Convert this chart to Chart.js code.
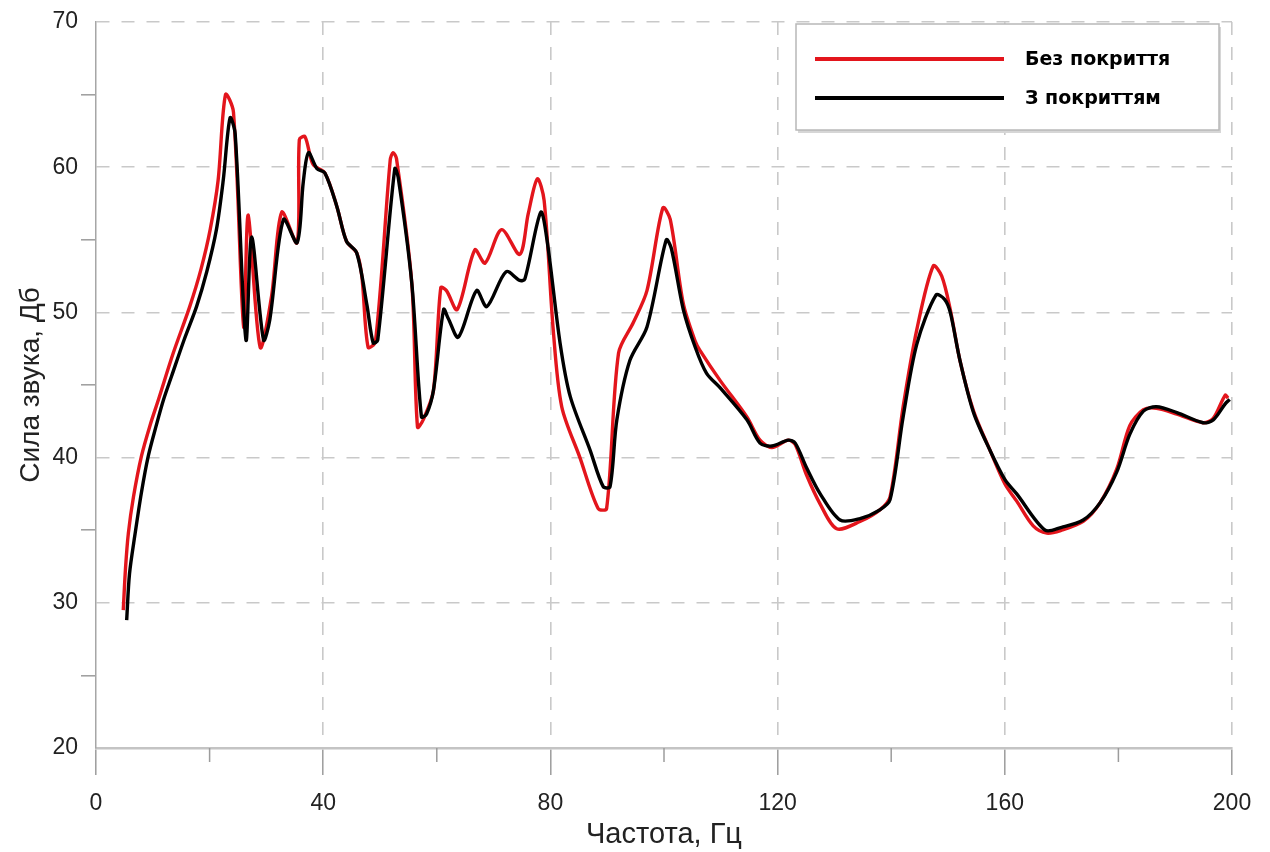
<!DOCTYPE html>
<html>
<head>
<meta charset="utf-8">
<script src="https://cdn.jsdelivr.net/npm/chart.js@4.4.1/dist/chart.umd.min.js"></script>
<style>
  html, body { margin: 0; padding: 0; background: #fff; }
  canvas { display: block; }
</style>
</head>
<body>
<canvas id="myChart" width="1270" height="852"></canvas>
<script>
// Частота (Гц) і рівень (дБ) — без покриття
const freqBare = [4.8, 5.2, 5.7, 6.6, 8.0, 9.5, 11.0, 13.6, 16.5, 18.5, 20.1, 21.5, 22.8, 24.2, 26.0, 26.8, 28.9, 30.9, 32.7, 35.4,
  35.8, 36.8, 38.2, 40.3, 42.4, 44.1, 45.9, 46.8, 47.9, 49.2, 51.8, 52.3, 52.9, 55.6, 56.6, 57.6, 59.4, 60.7, 61.7, 63.6,
  66.7, 68.5, 71.4, 74.6, 76.1, 77.7, 78.9, 80.5, 82.0, 85.2, 88.4, 89.9, 92.0, 94.6, 97.0, 99.8, 101.1, 103.4, 105.5, 106.3,
  109.9, 114.6, 116.9, 119.0, 121.9, 123.1, 125.1, 127.5, 130.4, 134.5, 138.0, 139.8, 142.1, 144.5, 147.4, 148.9, 150.4, 152.1, 154.5, 157.4,
  160.0, 162.1, 165.0, 167.4, 170.0, 173.8, 176.8, 179.7, 182.0, 184.4, 186.7, 190.3, 194.9, 196.7, 198.8, 199.3];
const levelBare = [29.5, 32.4, 34.8, 37.3, 40.1, 42.2, 44.0, 47.2, 50.4, 53.0, 55.7, 59.1, 65.0, 63.8, 49.0, 56.7, 47.6, 51.1, 56.9, 54.8,
  61.9, 62.1, 60.2, 59.6, 57.3, 54.9, 54.1, 52.5, 47.6, 48.0, 60.5, 61.0, 60.6, 52.0, 42.1, 42.6, 44.6, 51.7, 51.5, 50.2,
  54.3, 53.4, 55.7, 54.0, 56.8, 59.2, 57.7, 48.8, 43.5, 40.0, 36.5, 36.5, 47.2, 49.3, 51.5, 57.2, 56.4, 50.6, 48.0, 47.4,
  45.3, 42.8, 41.2, 40.7, 41.2, 40.9, 38.8, 36.8, 35.1, 35.6, 36.4, 37.3, 43.5, 48.8, 53.2, 52.5, 50.2, 46.7, 43.2, 40.5,
  38.2, 37.0, 35.3, 34.8, 35.0, 35.6, 36.9, 39.2, 42.2, 43.3, 43.4, 43.0, 42.4, 42.7, 44.3, 44.1];

// Частота (Гц) і рівень (дБ) — з покриттям
const freqCoated = [5.4, 5.9, 6.9, 8.0, 9.2, 10.6, 11.9, 13.3, 15.5, 17.7, 19.5, 21.2, 22.4, 23.6, 24.5, 26.4, 27.4, 29.5, 30.6, 33.0,
  35.4, 36.5, 37.4, 38.9, 40.3, 42.4, 44.1, 45.9, 47.7, 48.8, 49.6, 52.6, 53.2, 55.6, 57.3, 58.2, 59.4, 61.2, 62.0, 63.8,
  67.0, 68.8, 72.2, 74.6, 75.5, 78.3, 79.4, 81.7, 83.5, 87.0, 89.3, 90.5, 91.7, 94.0, 97.0, 100.4, 101.3, 103.4, 105.5, 107.5,
  109.9, 114.6, 116.9, 119.0, 121.9, 123.1, 125.1, 127.5, 131.0, 134.5, 138.0, 139.8, 142.1, 144.5, 147.9, 149.4, 150.4, 152.1, 154.5, 157.4,
  160.0, 162.1, 167.1, 170.0, 173.8, 176.8, 179.7, 182.0, 184.4, 186.7, 190.3, 194.9, 196.7, 198.8, 199.6];
const levelCoated = [28.8, 32.0, 34.8, 37.6, 40.1, 42.2, 44.0, 45.6, 48.1, 50.4, 52.8, 55.7, 59.1, 63.4, 62.3, 48.1, 55.2, 48.1, 49.5, 56.4,
  54.8, 59.0, 61.0, 59.9, 59.6, 57.3, 54.9, 54.1, 50.5, 47.9, 48.1, 59.9, 59.3, 52.0, 42.8, 43.0, 44.6, 50.2, 49.6, 48.3,
  51.5, 50.4, 52.8, 52.2, 52.3, 56.9, 55.0, 47.9, 44.2, 40.5, 38.0, 38.0, 42.6, 46.7, 49.0, 55.0, 54.4, 50.2, 47.6, 45.8,
  44.8, 42.6, 41.0, 40.8, 41.2, 41.0, 39.3, 37.5, 35.7, 35.8, 36.4, 37.1, 42.8, 47.8, 51.2, 50.9, 50.0, 46.7, 43.1, 40.5,
  38.5, 37.5, 35.0, 35.2, 35.7, 36.9, 39.0, 41.6, 43.2, 43.5, 43.1, 42.4, 42.6, 43.7, 44.0];

const seriesNames = ['Без покриття', 'З покриттям'];

const toPoints = (xs, ys) => xs.map((x, i) => ({ x: x, y: ys[i] }));

const FONT = '"Liberation Sans", Arial, sans-serif';
const GRID = '#c9c9c9';
const TICK = '#9c9c9c';

// Рамка з легендою у правому верхньому куті
const legendBox = {
    id: 'legendBox',
    afterDraw(chart) {
        const { ctx, chartArea } = chart;
        const left = chartArea.right - 436;
        const top = chartArea.top + 2;
        const w = 423;
        const h = 106;
        ctx.save();
        ctx.fillStyle = '#d6d6d6';
        ctx.fillRect(left + 2, top + 3, w, h);
        ctx.fillStyle = '#fff';
        ctx.fillRect(left, top, w, h);
        ctx.strokeStyle = '#b8b8b8';
        ctx.lineWidth = 1.5;
        ctx.strokeRect(left, top, w, h);
        chart.data.datasets.forEach((ds, i) => {
            const y = top + 35 + i * 39;
            ctx.strokeStyle = ds.borderColor;
            ctx.lineWidth = 4;
            ctx.beginPath();
            ctx.moveTo(left + 19, y);
            ctx.lineTo(left + 208, y);
            ctx.stroke();
            ctx.fillStyle = '#000';
            ctx.font = 'bold 19px "DejaVu Sans", sans-serif';
            ctx.textAlign = 'left';
            ctx.textBaseline = 'middle';
            ctx.fillText(ds.label, left + 229, y + 1);
        });
        ctx.restore();
    },
};

// Короткі проміжні риски на осі X (20, 60, 100 ...)
const minorTicks = {
    id: 'minorTicks',
    afterDraw(chart) {
        const { ctx, chartArea, scales } = chart;
        ctx.save();
        ctx.strokeStyle = TICK;
        ctx.lineWidth = 1.5;
        scales.x.ticks.forEach((t) => {
            if (t.value % 40 === 0) return;
            const px = scales.x.getPixelForValue(t.value);
            ctx.beginPath();
            ctx.moveTo(px, chartArea.bottom);
            ctx.lineTo(px, chartArea.bottom + 14);
            ctx.stroke();
        });
        ctx.restore();
    },
};

const ctx = document.getElementById('myChart').getContext('2d');

new Chart(ctx, {
    type: 'line',
    data: {
        datasets: [
            {
                label: seriesNames[0],
                data: toPoints(freqBare, levelBare),
                borderColor: '#e3151c',
                backgroundColor: '#e3151c',
                borderWidth: 3.4,
                pointRadius: 0,
                tension: 0.3,
                order: 1,
            },
            {
                label: seriesNames[1],
                data: toPoints(freqCoated, levelCoated),
                borderColor: '#000',
                backgroundColor: '#000',
                borderWidth: 3.4,
                pointRadius: 0,
                tension: 0.3,
                order: 0,
            },
        ],
    },
    options: {
        responsive: false,
        animation: false,
        devicePixelRatio: 1,
        layout: { padding: { top: 22, right: 38, bottom: 0, left: 0 } },
        plugins: {
            legend: { display: false },
            tooltip: { enabled: false },
        },
        scales: {
            x: {
                type: 'linear',
                min: 0,
                max: 200,
                afterFit(scale) { scale.height = 104; },
                ticks: {
                    stepSize: 20,
                    autoSkip: false,
                    maxRotation: 0,
                    padding: 15,
                    color: '#222',
                    font: { family: FONT, size: 23 },
                    callback: (v) => (v % 40 === 0 ? v : ''),
                },
                grid: {
                    color: (c) => (c.tick && c.tick.value % 40 === 0 && c.tick.value !== 0 ? GRID : 'rgba(0,0,0,0)'),
                    lineWidth: 1.6,
                    tickLength: 27,
                    tickColor: (c) => (c.tick && c.tick.value % 40 === 0 ? TICK : 'rgba(0,0,0,0)'),
                    tickBorderDash: [],
                    tickWidth: 1.5,
                },
                border: { display: true, color: '#c4c4c4', width: 2.5, dash: [13, 12] },
                title: {
                    display: true,
                    text: 'Частота, Гц',
                    color: '#222',
                    font: { family: FONT, size: 29 },
                    padding: { top: 0, bottom: 0 },
                },
            },
            y: {
                min: 20,
                max: 70,
                afterFit(scale) { scale.width = 96; },
                ticks: {
                    stepSize: 5,
                    autoSkip: false,
                    padding: 3,
                    color: '#222',
                    font: { family: FONT, size: 23 },
                    callback: (v) => (v % 10 === 0 ? v : ''),
                },
                grid: {
                    color: (c) => (c.tick && c.tick.value % 10 === 0 && c.tick.value !== 20 ? GRID : 'rgba(0,0,0,0)'),
                    lineWidth: 1.6,
                    tickLength: 15,
                    tickColor: (c) => (c.tick && c.tick.value % 10 !== 0 ? TICK : 'rgba(0,0,0,0)'),
                    tickBorderDash: [],
                    tickWidth: 1.5,
                },
                border: { display: true, color: '#a6a6a6', width: 1.5, dash: [13, 12] },
                title: {
                    display: true,
                    text: 'Сила звука, Дб',
                    color: '#222',
                    font: { family: FONT, size: 28 },
                    padding: { top: 14, bottom: 0 },
                },
            },
        },
    },
    plugins: [legendBox, minorTicks],
});
</script>
</body>
</html>
